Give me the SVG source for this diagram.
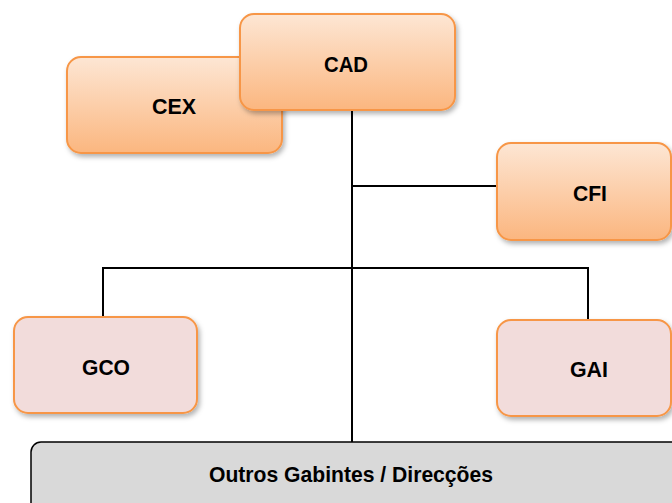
<svg xmlns="http://www.w3.org/2000/svg" width="672" height="503" viewBox="0 0 672 503">
<defs>
<linearGradient id="og" x1="0" y1="0" x2="0" y2="1">
<stop offset="0" stop-color="#fde6d4"/>
<stop offset="1" stop-color="#fbb67f"/>
</linearGradient>
<filter id="sh" x="-10%" y="-10%" width="125%" height="130%">
<feDropShadow dx="2" dy="3" stdDeviation="2.5" flood-color="#000" flood-opacity="0.3"/>
</filter>
<style>
.o{fill:url(#og);stroke:#f79646;stroke-width:2;filter:url(#sh)}
.p{fill:#f2dcdb;stroke:#f79646;stroke-width:2;filter:url(#sh)}
.g{fill:#d9d9d9;stroke:#000;stroke-width:1.5}
.t{font-family:"Liberation Sans",Arial,sans-serif;font-weight:bold;font-size:22px;fill:#000;text-anchor:middle}
.c{fill:none;stroke:#000;stroke-width:2}
</style>
</defs>
<g id="connectors">
<path class="c" d="M352 110V442"/>
<path class="c" d="M352 186H497"/>
<path class="c" d="M103 317V268H588V320"/>
</g>
<g id="CEX">
<rect class="o" x="67" y="57" width="215" height="96" rx="14"/>
<text class="t" x="174" y="114" textLength="44" lengthAdjust="spacingAndGlyphs">CEX</text>
</g>
<g id="CAD">
<rect class="o" x="240" y="14" width="215" height="96" rx="14"/>
<text class="t" x="346" y="72" textLength="44" lengthAdjust="spacingAndGlyphs">CAD</text>
</g>
<g id="CFI">
<rect class="o" x="497" y="143" width="174" height="97" rx="14"/>
<text class="t" x="590" y="201" textLength="34" lengthAdjust="spacingAndGlyphs">CFI</text>
</g>
<g id="GCO">
<rect class="p" x="14" y="317" width="183" height="96" rx="14"/>
<text class="t" x="106" y="375" textLength="48" lengthAdjust="spacingAndGlyphs">GCO</text>
</g>
<g id="GAI">
<rect class="p" x="497" y="320" width="174" height="96" rx="14"/>
<text class="t" x="589" y="377" textLength="38" lengthAdjust="spacingAndGlyphs">GAI</text>
</g>
<g id="Outros">
<rect class="g" x="31" y="442" width="660" height="80" rx="10"/>
<text class="t" x="351" y="482" textLength="284" lengthAdjust="spacingAndGlyphs">Outros Gabintes / Direcções</text>
</g>
</svg>
